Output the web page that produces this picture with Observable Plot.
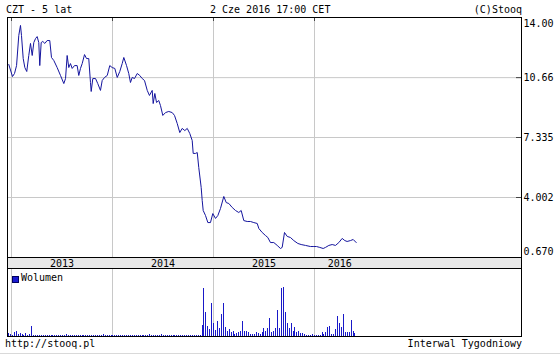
<!DOCTYPE html>
<html><head><meta charset="utf-8">
<script src="https://cdn.jsdelivr.net/npm/d3@7"></script>
<script src="https://cdn.jsdelivr.net/npm/@observablehq/plot@0.6"></script>
<style>
html,body{margin:0;padding:0;background:#fff;}
#wrap{position:relative;width:560px;height:356px;overflow:hidden;background:#fff;font-family:"DejaVu Sans Mono",monospace;font-size:10px;color:#000;}
.t{position:absolute;white-space:pre;line-height:10px;}
#band{position:absolute;left:7px;top:257px;width:515px;height:12px;box-sizing:border-box;border:1px solid #000;background:#e8e8e8;}
#price,#vol{position:absolute;left:0;}
#price{top:0}
#vol{top:257px}
</style></head><body>
<div id="wrap">
  <div class="t" style="left:6px;top:5px">CZT - 5 lat</div>
  <div class="t" style="left:210px;top:5px">2 Cze 2016 17:00 CET</div>
  <div class="t" style="right:38px;top:5px">(C)Stooq</div>
  <div id="band"></div>
  <div id="price"></div>
  <div id="vol"></div>
  <div style="position:absolute;left:12px;top:276px;width:5px;height:5px;background:#1a1ad0;border:0.5px solid #000060"></div>
  <div class="t" style="left:21px;top:273px">Wolumen</div>
  <div class="t" style="left:5px;top:339px">http://stooq.pl</div>
  <div class="t" style="right:38px;top:339px">Interwal Tygodniowy</div>
  <div style="position:absolute;left:0;top:353px;width:560px;height:1px;background:#d9d9d9"></div>
</div>
<script>
// ---- data (x values in decimal years) ----
const priceDates = [
  2012.973, 2013.010, 2013.030, 2013.050, 2013.072, 2013.089, 2013.099, 2013.116, 2013.132, 2013.151,
  2013.171, 2013.188, 2013.205, 2013.221, 2013.238, 2013.254, 2013.270, 2013.280, 2013.294, 2013.310,
  2013.330, 2013.353, 2013.379, 2013.396, 2013.419, 2013.452, 2013.485, 2013.518, 2013.535, 2013.551,
  2013.567, 2013.584, 2013.601, 2013.624, 2013.650, 2013.666, 2013.683, 2013.700, 2013.723, 2013.743,
  2013.765, 2013.782, 2013.789, 2013.805, 2013.832, 2013.854, 2013.881, 2013.898, 2013.921, 2013.948,
  2013.973, 2013.997, 2014.023, 2014.047, 2014.072, 2014.096, 2014.112, 2014.139, 2014.161, 2014.178,
  2014.195, 2014.218, 2014.245, 2014.270, 2014.294, 2014.317, 2014.344, 2014.366, 2014.393, 2014.403,
  2014.419, 2014.436, 2014.458, 2014.475, 2014.498, 2014.525, 2014.557, 2014.591, 2014.614, 2014.641,
  2014.666, 2014.690, 2014.716, 2014.740, 2014.765, 2014.789, 2014.799, 2014.822, 2014.839, 2014.854,
  2014.878, 2014.888, 2014.898, 2014.921, 2014.944, 2014.970, 2014.993, 2015.020, 2015.043, 2015.069,
  2015.102, 2015.126, 2015.152, 2015.185, 2015.218, 2015.250, 2015.274, 2015.300, 2015.334, 2015.366,
  2015.399, 2015.433, 2015.449, 2015.482, 2015.515, 2015.538, 2015.564, 2015.597, 2015.631, 2015.663,
  2015.680, 2015.703, 2015.730, 2015.762, 2015.795, 2015.835, 2015.868, 2015.911, 2015.960, 2015.987,
  2016.020, 2016.052, 2016.086, 2016.109, 2016.142, 2016.175, 2016.208, 2016.241, 2016.274, 2016.300,
  2016.323, 2016.356, 2016.383, 2016.413
];
const priceValues = [
  11.39, 10.72, 10.89, 11.33, 13.00, 13.56, 13.00, 11.72, 11.22, 11.00,
  11.89, 12.56, 11.89, 12.61, 12.83, 12.94, 12.61, 11.33, 12.61, 12.67,
  12.56, 12.72, 12.72, 11.78, 11.61, 11.22, 10.78, 10.33, 10.61, 11.89,
  11.22, 11.44, 11.17, 11.33, 11.33, 10.78, 11.17, 11.44, 11.94, 11.72,
  11.72, 10.39, 9.89, 10.61, 10.61, 10.33, 9.95, 10.50, 10.67, 10.78,
  11.33, 11.22, 11.17, 10.67, 11.00, 11.44, 11.78, 11.33, 10.89, 10.39,
  10.67, 10.61, 10.89, 10.78, 10.61, 10.50, 9.95, 9.67, 9.95, 9.22,
  9.78, 9.28, 9.39, 9.11, 8.56, 8.72, 8.78, 8.72, 8.56, 8.11,
  7.61, 7.84, 7.72, 7.84, 7.56, 7.17, 6.45, 6.45, 6.50, 5.67,
  4.56, 3.84, 3.28, 3.00, 2.61, 2.61, 3.11, 2.84, 3.00, 3.39,
  4.06, 3.72, 3.67, 3.45, 3.28, 3.17, 3.28, 2.72, 2.67, 2.67,
  2.61, 2.56, 2.28, 2.06, 1.89, 1.78, 1.50, 1.50, 1.34, 1.17,
  1.23, 2.06, 1.84, 1.78, 1.61, 1.45, 1.39, 1.34, 1.28, 1.28,
  1.28, 1.23, 1.17, 1.23, 1.34, 1.39, 1.34, 1.50, 1.73, 1.61,
  1.56, 1.61, 1.67, 1.50
];
// weekly volume (relative units), one bar per week starting at volumeFirstWeek
const volumeFirstWeek = 2012.970;
const volumeValues = [
  3, 2, 1, 4, 5, 2, 3, 2, 1, 3, 1, 2, 10,
  1, 1, 1, 1, 1, 1, 1, 1, 1, 1,
  1, 1, 1, 1, 1, 1, 1, 2, 1, 1,
  1, 1, 1, 1, 1, 1, 1, 1, 1, 1,
  1, 1, 1, 1, 1, 1, 2, 1, 1, 1,
  1, 1, 1, 1, 1, 1, 1, 1, 1, 1,
  1, 1, 1, 1, 1, 1, 1, 1, 1, 1,
  2, 1, 1, 1, 1, 1, 2, 1, 1, 1,
  1, 1, 1, 1, 1, 1, 1, 1, 1, 1,
  1, 1, 1, 1, 1, 1, 1,
  11, 48, 24, 10, 7, 33, 13, 6, 15, 8,
  22, 33, 9, 5, 7, 4, 5, 2, 3, 4,
  5, 15, 5, 5, 4, 2, 2, 2, 4, 3,
  2, 4, 8, 5, 8, 18, 4, 5, 8, 26,
  8, 48, 49, 24, 13, 8, 13, 5, 9, 4,
  5, 3, 3, 2, 1, 1, 1, 2, 1, 1,
  1, 1, 4, 2, 4, 9, 10, 2, 2, 7,
  20, 13, 9, 22, 4, 4, 4, 16, 5, 3
];
const xDomain = [2012.9604, 2018.0495];
const yearGrid = [2013, 2014, 2015, 2016];
const yearLabels = ["2013", "2014", "2015", "2016"];
const yearLabelPos = [2013.5, 2014.5, 2015.5, 2016.25];
const priceTicks = [14.00, 10.66, 7.335, 4.002, 0.670];
const priceTickLabels = ["14.00", "10.66", "7.335", "4.002", "0.670"];
const volumeMax = 68;

// ---- build ----
const price = priceDates.map((d, i) => ({date: d, value: priceValues[i]}));
const vol = volumeValues.map((v, i) => ({date: volumeFirstWeek + i * 7 / 365.25, v}));
const ticks = priceTicks.map((v, i) => ({v, label: priceTickLabels[i]}));
const yLo = priceTicks[priceTicks.length - 1], yHi = priceTicks[0];
const inner = ticks.filter(d => d.v > yLo && d.v < yHi);

const baseStyle = {fontFamily: '"DejaVu Sans Mono", monospace', fontSize: "10px", background: "transparent", color: "#000", overflow: "visible"};

const pricePlot = Plot.plot({
  width: 560, height: 258,
  marginTop: 17, marginBottom: 1, marginLeft: 7, marginRight: 39,
  style: baseStyle,
  x: {domain: xDomain, axis: null},
  y: {domain: [yLo, yHi], axis: null},
  marks: [
    Plot.ruleX(yearGrid, {stroke: "#c8c8c8"}),
    Plot.ruleY(inner, {y: "v", stroke: "#c8c8c8"}),
    Plot.tickY(inner, {y: "v", stroke: "#444", insetLeft: 509}),
    Plot.tickX(yearGrid, {stroke: "#444", insetBottom: 236}),
    Plot.line(price, {x: "date", y: "value", stroke: "#15159e", strokeWidth: 1}),
    Plot.frame({stroke: "#000"}),
    Plot.text(inner, {y: "v", text: "label", frameAnchor: "right", textAnchor: "start", dx: 2}),
    Plot.text(ticks, {filter: d => d.v === yHi, y: "v", text: "label", frameAnchor: "right", textAnchor: "start", dx: 2, dy: 6}),
    Plot.text(ticks, {filter: d => d.v === yLo, y: "v", text: "label", frameAnchor: "right", textAnchor: "start", dx: 2, dy: -6})
  ]
});
document.getElementById("price").appendChild(pricePlot);

const volPlot = Plot.plot({
  width: 560, height: 99,
  marginTop: 11, marginBottom: 20, marginLeft: 7, marginRight: 39,
  style: baseStyle,
  x: {domain: xDomain, axis: "top", ticks: yearLabelPos, tickFormat: d => yearLabels[yearLabelPos.indexOf(d)], tickSize: 0, tickPadding: 2, label: null},
  y: {domain: [0, volumeMax], axis: null},
  marks: [
    Plot.ruleX(yearGrid, {stroke: "#c8c8c8"}),
    Plot.ruleX(vol, {x: "date", y: "v", stroke: "#1919c8", strokeWidth: 1, shapeRendering: "crispEdges"}),
    Plot.frame({stroke: "#000"})
  ]
});
document.getElementById("vol").appendChild(volPlot);
</script>
</body></html>
